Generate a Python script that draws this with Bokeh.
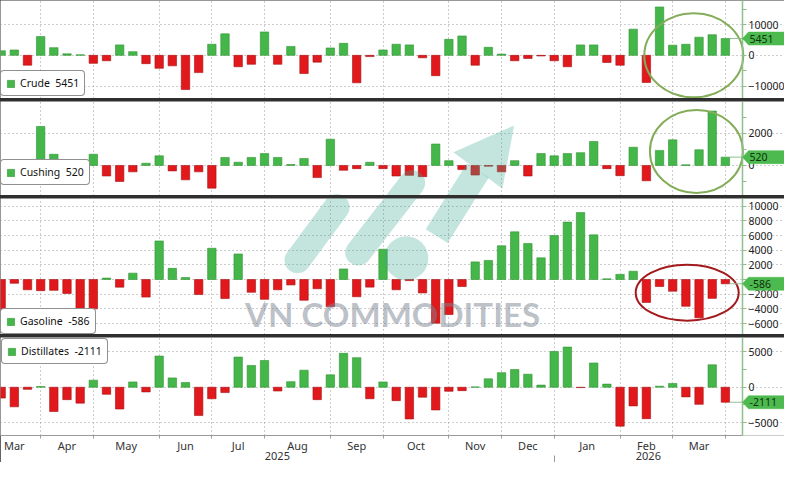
import numpy as np
import pandas as pd
from bokeh.plotting import figure
from bokeh.models import (Range1d, FixedTicker, LinearAxis, Legend, LegendItem,
                          ColumnDataSource)
from bokeh.layouts import column
from bokeh.core.properties import value
from bokeh.embed import file_html
from bokeh.resources import INLINE

# ---------------- data (weekly changes, thousand barrels) ----------------
start_friday = "2025-03-14"

crude = [1500, 1750, -3200, 6100, 2500, 500, 200, -2600, -1750, 3400,
         1200, -2700, -4200, -3400, -11100, -5600, 3600, 7000, -3700, -2900,
         7600, -2900, 2900, -5900, -2200, 2400, 3900, -8900, -400, 1750,
         3600, 3400, -800, -6600, 5200, 6300, -3200, 2600, 400, -1750,
         -1000, -200, -1750, -3700, 3400, 3400, -2300, -3200, 8500, -8800,
         15700, 3300, 3600, 5900, 6700, 5451]

cushing = [-400, -300, -600, 2440, 700, -300, 50, 700, -660, -1000,
           -400, 140, 600, -340, -900, -400, -1420, 500, 200, 500,
           740, 500, 60, 440, -760, 1640, -300, -200, 200, -200,
           -660, -620, -700, 1340, 300, -260, -600, -50, -400, 300,
           -660, 740, 600, 740, 800, 1500, -200, -640, 1140, -960,
           940, 1600, 40, 980, 3400, 520]

gasoline = [-4400, -520, -1400, -1520, -1480, -1900, -4440, -4000, 200, -1040,
            870, -2400, 5260, 1520, 260, -2050, 4260, -2600, 3480, -1740,
            -2700, -1400, -740, -2830, -1260, -3700, 1440, -2350, -1040, 4130,
            -1400, -150, -1830, -5960, -4780, -960, 2400, 2600, 4600, 6500,
            4900, 2960, 6000, 7830, 9130, 6090, 100, 700, 1130, -3130,
            -960, -1600, -3650, -5220, -2570, -586]

distillates = [-1530, -2760, -300, 100, -3420, -1750, -2240, 1000, -1000, -3070,
               750, -660, 4390, 1320, 660, -3990, -1620, -750, 4250, 3070,
               3770, -530, 790, 2410, -1750, 1750, 4780, 4170, -1620, 750,
               -1890, -4470, -1400, -3200, -570, -480, 50, 1180, 2060, 2500,
               1840, 300, 5040, 5660, -50, 3420, 440, -5480, -2630, -4430,
               150, 530, -1360, -2410, 3160, -2111]

series_names = ["Crude", "Cushing", "Gasoline", "Distillates"]

# ---------------- derived axis positions ----------------
dates = pd.date_range(start_friday, periods=len(crude), freq="7D")
weeks = np.arange(len(dates))
month_starts = [i for i in range(1, len(dates)) if dates[i].month != dates[i - 1].month]
first_edge = -((dates[0].day - 1) // 7)
edges = [first_edge] + month_starts
month_label_pos = [(a + b) / 2 for a, b in zip(edges[:-1], edges[1:])]
month_labels = [(dates[0] + pd.Timedelta(weeks=int(a))).strftime("%b") for a in edges[:-1]]
year_start = next(i for i in range(1, len(dates)) if dates[i].year != dates[i - 1].year)

# ---------------- layout / style ----------------
FONT = "Noto Sans"
GREEN, GREEN_EDGE = "#45b649", "#2f9633"
RED, RED_EDGE = "#e2191c", "#a51012"
TAG_GREEN = "#4cba4e"
AXIS_GREEN = "#8fbf8f"
GRID = "#9a9a9a"
TEAL = "#3aa891"
BAR_W = 0.64
PLOT_W = 742            # width of the bar area (px)
GUTTER = 42             # right value-axis gutter (px)
TOTAL_W = PLOT_W + GUTTER

X0, X1 = -0.05, 56.3                       # bar-area data range (weeks)
X2 = X1 + GUTTER * (X1 - X0) / PLOT_W      # frame extends over the gutter
year_pos = [(X0 + year_start) / 2, (year_start + X1) / 2]
year_labels = [str(dates[0].year), str(dates[-1].year)]
REF_PPU = 757 / (X1 - X0)                  # reference pixels per week

panels = [
    dict(data=crude, yr=(-14000, 17800), fh=98, major=[-10000, 0, 10000],
         minor=[-5000, 5000, 15000], over={}, leg=(0, 2), ref=(0, 102),
         ell=dict(x=52.6, y=0, w=99, h=84, c="#84ad5a")),
    dict(data=cushing, yr=(-1880, 4000), fh=94, major=[0, 2000],
         minor=[-1000, 1000, 3000], over={}, leg=(0, 10), ref=(105, 203),
         ell=dict(x=52.8, y=880, w=93, h=83, c="#84ad5a")),
    dict(data=gasoline, yr=(-7500, 11050), fh=136,
         major=list(range(-6000, 10001, 2000)), minor=[], over={0: ""},
         leg=(0, 0), ref=(206, 347),
         ell=dict(x=52.1, y=-1790, w=103, h=56, c="#a3191c")),
    dict(data=distillates, yr=(-6800, 7010), fh=98, major=[-5000, 0, 5000],
         minor=[-2500, 2500], over={}, leg="top_left", ref=(350, 455), ell=None),
]

# watermark (decoration), in reference-page pixels
WM_CAPSULES = [((303, 270), (343, 215)), ((365, 262), (420, 190))]
WM_CIRCLE = (414, 268)
WM_SHAFT = ((445, 245), (487, 177))
WM_HEAD = [(462, 158), (524, 130), (512, 196)]
WM_TEXT = (400, 326)
WM_ALPHA = 0.3


def to_data(px, py, cfg):
    top, bot = cfg["ref"]
    y0, y1 = cfg["yr"]
    return X0 + px / REF_PPU, y1 - (py - top) / (bot - top) * (y1 - y0)


x_range = Range1d(X0, X2)
figs = []
for k, (name, cfg) in enumerate(zip(series_names, panels)):
    last = k == len(panels) - 1
    y0, y1 = cfg["yr"]
    p = figure(frame_width=TOTAL_W, frame_height=cfg["fh"], x_range=x_range,
               y_range=Range1d(y0, y1), y_axis_location="right",
               toolbar_location=None, output_backend="svg",
               min_border_left=0, min_border_right=0, min_border_top=0,
               min_border_bottom=0, outline_line_color=None,
               background_fill_color="white", border_fill_color="white")
    vals = np.array(cfg["data"], dtype=float)
    src = ColumnDataSource(dict(
        x=weeks, top=vals,
        fill=[GREEN if v >= 0 else RED for v in vals],
        edge=[GREEN_EDGE if v >= 0 else RED_EDGE for v in vals]))
    r = p.vbar(x="x", top="top", bottom=0, width=BAR_W, fill_color="fill",
               line_color="edge", line_width=0.6, source=src)

    # grids
    p.xgrid.ticker = FixedTicker(ticks=month_starts)
    p.ygrid.bounds = (X0, X1)
    for g in (p.xgrid, p.ygrid):
        g.grid_line_color = GRID
        g.grid_line_dash = "1 3"
        g.grid_line_width = 1

    # value axis, drawn at the right edge of the bar area
    ax = p.yaxis[0]
    ax.fixed_location = X1
    ax.ticker = FixedTicker(ticks=cfg["major"], minor_ticks=cfg["minor"])
    ax.major_label_overrides = cfg["over"]
    ax.axis_line_color = AXIS_GREEN
    ax.axis_line_width = 1.5
    ax.major_tick_line_color = AXIS_GREEN
    ax.minor_tick_line_color = AXIS_GREEN
    ax.major_tick_out, ax.major_tick_in = 4, 0
    ax.minor_tick_out, ax.minor_tick_in = 4, 0
    ax.major_label_standoff = 2
    ax.major_label_text_font = FONT
    ax.major_label_text_font_size = "10.5px"
    ax.major_label_text_color = "#222222"

    # watermark
    for (a, b) in WM_CAPSULES:
        xa, ya = to_data(*a, cfg)
        xb, yb = to_data(*b, cfg)
        p.line([xa, xb], [ya, yb], line_width=26, line_color=TEAL,
               line_alpha=WM_ALPHA, line_cap="round")
    cx, cy = to_data(*WM_CIRCLE, cfg)
    p.scatter([cx], [cy], size=44, marker="circle", fill_color=TEAL,
              fill_alpha=WM_ALPHA, line_color=None)
    (sa, sb) = WM_SHAFT
    xa, ya = to_data(*sa, cfg)
    xb, yb = to_data(*sb, cfg)
    p.line([xa, xb], [ya, yb], line_width=26, line_color=TEAL,
           line_alpha=WM_ALPHA, line_cap="butt")
    hx, hy = zip(*[to_data(px, py, cfg) for px, py in WM_HEAD])
    p.patch(list(hx), list(hy), fill_color=TEAL, fill_alpha=WM_ALPHA, line_color=None)
    if name == "Gasoline":
        tx, ty = to_data(*WM_TEXT, cfg)
        p.text([tx], [ty], text=["VN COMMODITIES"], text_font=value("Lato"),
               text_font_style="bold", text_font_size="33px",
               text_color="#7b8392", text_alpha=0.5, text_align="center",
               text_baseline="middle")

    # highlight ellipse
    e = cfg["ell"]
    if e:
        p.ellipse([e["x"]], [e["y"]], width=e["w"], height=e["h"],
                  width_units="screen", height_units="screen",
                  fill_color=None, line_color=e["c"], line_width=2)

    # connector + tag for latest value (in the gutter, drawn above the axis)
    last_val = vals[-1]
    dxp = (X1 - X0) / PLOT_W
    dyp = (y1 - y0) / cfg["fh"]
    p.segment(x0=[weeks[-1] + BAR_W / 2], y0=[last_val], x1=[X1], y1=[last_val],
              line_color=AXIS_GREEN, line_width=1)
    hh = 6.5 * dyp
    tag_x = [X1, X1 + 6 * dxp, X2, X2, X1 + 6 * dxp]
    tag_y = [last_val, last_val + hh, last_val + hh, last_val - hh, last_val - hh]
    p.patch(tag_x, tag_y, fill_color=TAG_GREEN, line_color=TAG_GREEN,
            line_width=0.5, level="overlay")
    p.text([X1 + 7 * dxp], [last_val], text=[f"{int(last_val)}"],
           text_font=value(FONT), text_font_size="10.5px", text_color="#10300f",
           text_align="left", text_baseline="middle", level="overlay")

    # legend
    pos_idx = int(np.argmax(vals > 0))
    item = LegendItem(label=f"{name}\u00a0 {int(last_val)}", renderers=[r], index=pos_idx)
    leg_kw = dict(items=[item], location=cfg["leg"],
                  margin=1 if cfg["leg"] == "top_left" else 0,
                  padding=5, spacing=0, glyph_width=9, glyph_height=9, label_height=11,
                  label_standoff=5, label_text_font=FONT, label_text_font_size="10.5px",
                  label_text_color="#111111", border_line_color="#222222",
                  border_line_width=1.3, background_fill_color="white",
                  background_fill_alpha=1)
    if "border_radius" in Legend.properties():
        leg_kw["border_radius"] = 4
    p.add_layout(Legend(**leg_kw))

    # time axis
    if not last:
        p.xaxis.visible = False
    else:
        xa0 = p.xaxis[0]
        xa0.ticker = FixedTicker(ticks=month_label_pos, minor_ticks=month_starts)
        xa0.major_label_overrides = {pos: lab for pos, lab in zip(month_label_pos, month_labels)}
        xa0.axis_line_color = "#9a9a9a"
        xa0.bounds = (X0, X1)
        xa0.major_tick_line_color = None
        xa0.major_tick_out, xa0.major_tick_in = 0, 0
        xa0.minor_tick_line_color = "#9a9a9a"
        xa0.minor_tick_out, xa0.minor_tick_in = 3, 0
        xa0.major_label_standoff = -1
        xa0.major_label_text_font = FONT
        xa0.major_label_text_font_size = "11px"
        xa0.major_label_text_line_height = 1.0
        xa0.major_label_text_color = "#333333"

        xa1 = LinearAxis(ticker=FixedTicker(ticks=year_pos, minor_ticks=[year_start]),
                         major_label_overrides={pos: lab for pos, lab in zip(year_pos, year_labels)})
        xa1.axis_line_color = None
        xa1.major_tick_line_color = None
        xa1.major_tick_out, xa1.major_tick_in = 0, 0
        xa1.minor_tick_line_color = "#9a9a9a"
        xa1.minor_tick_out, xa1.minor_tick_in = 14, 0
        xa1.major_label_standoff = -18
        xa1.major_label_text_font = FONT
        xa1.major_label_text_font_size = "11px"
        xa1.major_label_text_line_height = 1.0
        xa1.major_label_text_color = "#333333"
        p.add_layout(xa1, "below")
    figs.append(p)

layout = column(*figs, spacing=3, styles={"background-color": "#2f2f2f"})
open("out.html", "w").write(file_html(layout, INLINE))
